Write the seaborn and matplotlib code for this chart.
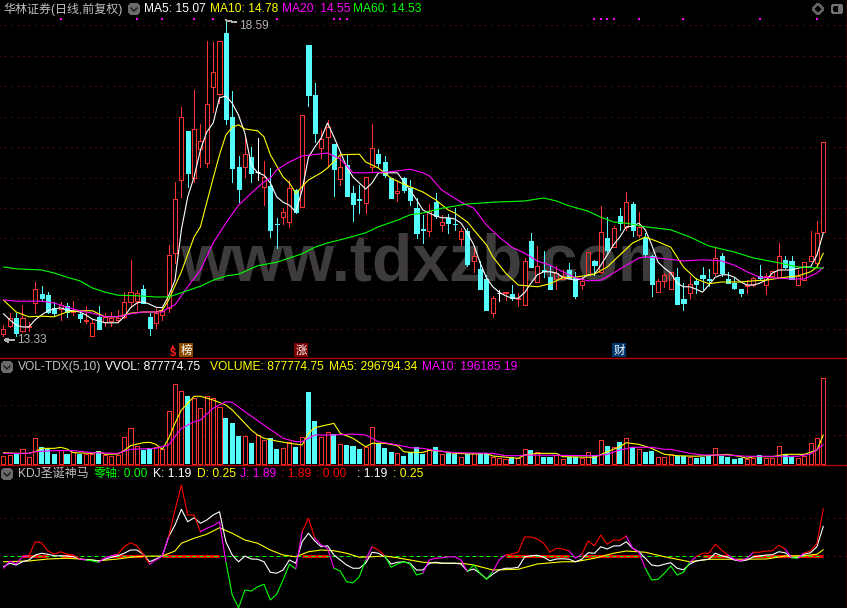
import numpy as np
import seaborn as sns
import matplotlib.pyplot as plt
from matplotlib.patches import Circle, FancyBboxPatch, Polygon

# daily bars, 华林证券
opens = [13.36,13.50,13.63,13.41,13.48,13.88,14.03,14.01,13.80,13.78,
         13.83,13.73,13.70,13.58,13.33,13.65,13.56,13.58,13.60,13.65,
         13.90,13.91,14.11,13.65,13.55,13.68,13.80,14.71,15.93,16.75,
         15.96,16.45,16.21,17.48,17.36,18.38,16.98,16.15,16.15,16.31,
         16.06,15.81,15.83,15.20,15.31,15.23,15.76,15.48,18.18,17.35,
         16.46,16.65,16.53,15.95,16.18,15.71,15.61,15.55,16.15,16.36,
         16.23,15.96,15.71,15.96,15.80,15.46,15.11,15.08,15.56,15.18,
         15.30,15.20,14.95,15.08,14.58,14.45,14.28,13.71,14.05,14.05,
         14.03,13.95,13.85,14.91,14.23,14.43,14.31,14.28,14.28,14.43,
         14.30,14.18,14.35,14.58,14.40,14.96,14.81,15.33,15.15,15.53,
         15.01,14.96,14.66,14.06,14.25,14.11,14.31,13.95,14.05,14.25,
         14.35,14.28,14.38,14.66,14.28,14.21,14.11,14.16,14.18,14.33,
         14.18,14.33,14.31,14.60,14.58,14.18,14.26,14.58,14.55,15.06]
closes = [13.45,13.63,13.38,13.63,13.50,14.11,13.96,13.73,13.71,13.85,
          13.73,13.75,13.63,13.60,13.55,13.45,13.65,13.63,13.63,13.90,
          14.06,14.05,13.88,13.46,13.71,13.75,14.68,15.61,16.98,16.05,
          16.78,16.58,17.20,17.73,18.25,16.95,16.13,15.78,16.36,16.05,
          16.06,15.98,15.10,15.19,15.40,15.80,15.40,17.01,17.35,16.71,
          16.61,16.81,16.11,16.15,15.66,15.53,15.60,15.98,16.46,16.21,
          16.01,15.63,15.75,15.76,15.60,15.05,15.10,15.41,15.33,15.23,
          15.21,15.19,15.08,14.53,14.66,14.11,13.76,13.96,14.05,14.06,
          13.96,13.96,14.58,14.48,14.50,14.42,14.11,14.38,14.33,14.30,
          14.00,14.25,14.73,14.51,15.06,14.76,15.13,15.21,15.56,15.10,
          15.15,14.70,14.20,14.25,14.35,14.40,13.86,13.88,14.20,14.20,
          14.30,14.27,14.63,14.38,14.21,14.13,14.05,14.18,14.30,14.30,
          14.33,14.41,14.66,14.48,14.28,14.33,14.56,14.66,15.05,16.56]
highs = [13.51,13.71,13.71,13.85,13.56,14.23,14.16,14.06,13.90,13.90,
         13.88,13.91,13.75,13.83,13.61,13.83,13.71,13.73,13.76,14.06,
         14.60,14.10,14.18,13.71,13.81,13.81,14.85,15.90,17.15,16.75,
         17.43,16.86,18.25,18.23,18.25,18.59,17.41,16.33,16.63,16.48,
         16.63,16.25,16.13,15.30,15.46,15.93,15.78,17.01,18.18,17.55,
         16.76,16.93,16.53,16.38,16.35,15.83,15.85,15.98,16.86,16.45,
         16.33,15.96,15.93,15.98,15.93,15.63,15.35,15.53,15.71,15.35,
         15.36,15.46,15.13,15.13,14.83,14.58,14.35,14.00,14.10,14.06,
         14.18,14.05,14.63,15.05,14.83,14.75,14.51,14.50,14.43,14.55,
         14.40,14.31,14.73,14.60,15.50,15.31,15.16,15.46,15.73,15.56,
         15.40,15.05,14.68,14.28,14.38,14.40,14.46,14.21,14.33,14.30,
         14.48,14.45,14.81,14.71,14.40,14.30,14.11,14.26,14.31,14.51,
         14.38,14.41,14.88,14.66,14.66,14.43,14.56,15.08,15.25,16.56]
lows = [13.33,13.48,13.33,13.40,13.41,13.71,13.93,13.71,13.68,13.60,
        13.65,13.68,13.56,13.55,13.33,13.44,13.50,13.50,13.56,13.63,
        13.81,13.76,13.88,13.35,13.46,13.60,13.73,14.55,15.65,15.81,
        15.90,16.15,16.15,17.06,17.21,16.86,15.90,15.56,15.98,15.90,
        15.93,15.51,14.98,14.80,15.20,15.15,15.38,15.48,17.16,16.56,
        16.30,16.15,15.66,15.85,15.66,15.25,15.38,15.38,16.06,16.15,
        15.98,15.63,15.58,15.73,15.51,14.96,14.88,15.00,15.30,15.08,
        15.05,15.10,14.85,14.50,14.40,14.11,13.76,13.65,13.91,13.93,
        13.93,13.83,13.85,14.48,14.23,14.31,14.11,14.11,14.28,14.30,
        13.96,14.11,14.35,14.35,14.38,14.73,14.81,15.10,15.10,15.00,
        14.98,14.65,14.00,14.06,14.15,14.11,13.86,13.76,13.96,14.05,
        14.11,14.16,14.35,14.33,14.21,14.11,14.00,14.05,14.16,14.26,
        14.03,14.33,14.31,14.46,14.28,14.18,14.26,14.58,14.48,15.06]
white_doji = [40, 78]

ma5 = [13.70,13.60,13.51,13.48,13.48,13.60,13.68,13.75,13.78,13.80,
       13.76,13.75,13.73,13.68,13.61,13.58,13.55,13.55,13.55,13.65,
       13.80,13.88,13.90,13.86,13.81,13.80,14.00,14.26,15.10,15.65,
       15.98,16.43,16.73,16.88,17.30,17.33,17.21,17.01,16.71,16.18,
       16.05,16.01,15.88,15.65,15.56,15.51,15.40,15.76,16.31,16.48,
       16.63,16.88,16.65,16.40,16.15,15.98,15.88,15.78,15.88,16.05,
       16.05,16.05,16.05,15.90,15.76,15.60,15.43,15.38,15.33,15.30,
       15.30,15.28,15.21,15.05,14.85,14.55,14.30,14.15,14.06,14.00,
       13.96,13.96,14.05,14.21,14.35,14.40,14.40,14.38,14.31,14.28,
       14.26,14.28,14.35,14.36,14.51,14.68,14.85,14.98,15.15,15.16,
       15.21,15.10,14.85,14.56,14.46,14.38,14.21,14.15,14.15,14.11,
       14.06,14.18,14.31,14.35,14.35,14.31,14.23,14.18,14.18,14.21,
       14.26,14.38,14.43,14.43,14.43,14.46,14.48,14.48,14.68,15.05]
ma10_idx = [0,2,4,6,8,10,12,14,16,18,20,22,24,25,26,28,30,31,33,34,35,36,37,38,40,41,42,44,45,46,
            48,50,51,53,56,57,59,61,63,66,68,70,71,73,74,76,77,79,81,83,84,86,88,90,93,95,97,99,
            101,103,105,107,109,111,113,116,118,120,123,125,127,128,129]
ma10 = [13.93,13.73,13.65,13.66,13.65,13.73,13.75,13.75,13.65,13.65,13.71,13.73,13.73,13.76,13.93,
        14.40,14.98,15.15,15.96,16.35,16.68,16.81,16.85,16.78,16.75,16.65,16.35,15.98,15.88,15.71,
        15.93,16.05,16.13,16.35,16.36,16.23,16.13,15.96,15.86,15.73,15.60,15.43,15.38,15.23,15.10,
        14.85,14.65,14.38,14.18,14.16,14.15,14.20,14.30,14.31,14.36,14.48,14.68,14.88,14.98,14.90,
        14.81,14.48,14.28,14.20,14.23,14.23,14.25,14.26,14.31,14.33,14.40,14.48,14.71]
ma20_idx = [0,2,6,8,10,12,14,16,18,20,22,25,26,27,29,31,33,35,37,39,41,42,43,45,47,51,53,55,57,60,
            62,64,66,67,69,72,74,76,78,80,82,84,86,88,90,92,94,96,98,100,101,103,107,110,113,115,
            117,119,121,124,126,128,129]
ma20 = [13.93,13.91,13.91,13.88,13.81,13.75,13.71,13.65,13.65,13.70,13.73,13.73,13.80,13.85,14.15,
        14.43,14.88,15.21,15.51,15.71,15.90,15.96,16.10,16.23,16.33,16.38,16.28,16.05,16.05,16.06,
        16.08,16.11,16.05,16.00,15.76,15.56,15.46,15.18,14.98,14.81,14.71,14.58,14.51,14.40,14.30,
        14.25,14.26,14.38,14.51,14.63,14.65,14.63,14.58,14.60,14.58,14.51,14.40,14.31,14.30,14.28,
        14.28,14.38,14.48]
ma60_idx = [0,2,6,8,10,12,14,16,18,21,24,26,28,31,33,35,37,40,43,47,49,51,54,57,59,62,64,66,69,73,
            77,82,85,87,89,92,94,96,98,101,105,108,111,115,118,122,125,129]
ma60 = [14.48,14.45,14.43,14.38,14.31,14.25,14.13,14.06,14.01,14.00,13.98,13.98,14.05,14.16,14.26,
        14.33,14.36,14.50,14.56,14.70,14.81,14.88,14.96,15.05,15.15,15.26,15.35,15.38,15.46,15.53,
        15.56,15.58,15.63,15.58,15.50,15.41,15.31,15.23,15.21,15.15,15.10,14.98,14.83,14.73,14.63,
        14.55,14.48,14.46]
signal_bars = [9,21,25,30,33,43,52,53,54,93,94,95,96,100,107,119,128]
price_grid = [18.51,17.99,17.49,16.98,16.48,15.97,15.46,14.96,14.45,13.95,13.45]

# volume, in units of 10 000
volumes = [8.2,9.2,9.9,15.0,7.5,26.3,17.4,15.0,10.6,14.3,
           10.6,11.9,10.6,10.2,10.6,13.3,9.2,8.2,9.2,27.3,
           36.5,18.4,14.3,16.0,17.7,15.0,54.3,81.6,74.7,70.0,
           67.2,57.0,69.6,67.2,58.7,47.4,42.3,28.7,28.7,21.2,
           29.7,24.6,26.3,15.4,16.0,22.2,17.7,27.3,74.1,44.0,
           27.6,32.4,30.7,20.1,19.5,18.4,15.4,17.1,37.5,21.2,
           16.0,12.3,10.9,8.2,11.9,17.1,10.6,15.0,17.4,10.2,
           11.6,10.2,6.8,10.2,11.6,11.6,10.6,6.8,5.8,4.8,
           6.8,5.8,15.0,14.3,12.6,7.2,7.2,9.2,4.8,6.8,
           6.8,5.8,12.6,9.2,24.2,18.4,17.7,22.2,26.3,17.7,
           15.0,12.3,13.3,6.8,6.8,9.9,8.5,8.2,7.5,6.1,
           7.5,8.2,16.0,8.2,7.2,5.1,6.1,4.8,5.8,8.9,
           6.5,6.5,18.1,9.9,7.2,5.8,8.2,21.2,26.3,87.78]
vol_ma5_idx = [0,2,4,5,6,8,9,10,11,14,15,16,18,19,20,22,23,24,25,26,27,28,29,30,31,33,35,36,37,39,
               40,41,43,45,47,48,49,52,53,55,57,58,60,62,63,64,66,67,69,71,74,76,77,81,82,84,87,88,
               93,95,97,98,100,102,104,106,109,114,116,117,118,121,123,126,128,129]
vol_ma5 = [11.6,10.9,10.9,12.6,16.0,16.0,17.1,15.4,11.6,10.9,12.6,9.9,10.2,13.7,18.8,21.8,22.2,20.1,
           15.0,26.3,41.6,55.3,62.1,69.3,69.3,65.5,60.4,55.3,48.5,34.8,29.7,26.3,23.5,21.2,19.5,31.4,
           37.2,41.6,31.4,26.3,17.7,21.2,21.2,18.8,12.6,11.9,11.9,14.0,13.0,10.9,10.2,10.9,8.2,5.8,
           9.2,10.9,10.9,7.5,6.8,12.6,17.7,21.8,20.1,16.0,9.9,8.5,7.9,9.9,7.5,5.8,7.5,7.5,9.9,9.9,
           14.3,29.68]
vol_ma10_idx = [0,4,5,8,11,14,18,20,24,26,28,30,31,33,35,36,38,41,44,46,47,49,52,55,57,59,62,64,66,
                68,71,77,79,81,82,93,95,97,99,102,104,105,108,110,114,117,125,127,129]
vol_ma10 = [10.9,10.9,12.6,13.7,13.7,11.6,10.9,15.0,16.0,19.5,36.5,43.3,45.1,57.0,63.8,63.1,53.6,
            39.9,26.3,22.9,22.9,29.7,29.7,30.7,29.7,22.9,19.5,16.7,16.0,13.7,11.6,10.9,8.5,8.5,9.2,
            8.5,9.9,14.3,17.1,17.1,15.0,15.0,10.9,9.2,9.2,7.9,7.9,10.2,19.62]
vol_grid = [30, 60]

# KDJ panel
k_line = [-0.43,-0.29,-0.36,-0.23,-0.16,0.04,0.11,0.07,0.01,0.01,
          0.00,-0.03,-0.12,-0.15,-0.16,-0.20,-0.13,-0.05,0.01,0.11,
          0.24,0.24,0.07,-0.23,-0.12,0.00,0.77,1.24,1.87,1.37,
          1.53,1.31,1.44,1.64,1.77,0.57,0.04,-0.23,0.00,-0.12,
          -0.13,-0.23,-0.65,-0.69,-0.56,-0.16,-0.29,0.57,0.91,0.60,
          0.37,0.41,0.04,-0.16,-0.36,-0.49,-0.49,-0.29,0.15,0.11,
          -0.03,-0.32,-0.25,-0.23,-0.29,-0.56,-0.56,-0.29,-0.25,-0.29,
          -0.29,-0.29,-0.32,-0.60,-0.52,-0.69,-0.92,-0.73,-0.56,-0.49,
          -0.49,-0.45,-0.04,0.01,0.03,-0.05,-0.19,-0.12,-0.11,-0.13,
          -0.23,-0.13,0.13,0.11,0.37,0.28,0.40,0.41,0.57,0.31,
          0.17,-0.09,-0.36,-0.40,-0.33,-0.27,-0.49,-0.55,-0.32,-0.20,
          -0.16,-0.13,0.11,0.01,-0.05,-0.16,-0.20,-0.16,-0.03,0.00,
          0.04,0.05,0.17,0.13,-0.05,-0.07,0.07,0.13,0.37,1.19]
d_idx = [0,4,7,10,12,15,18,20,22,25,27,28,30,32,34,36,38,40,42,44,46,48,50,52,54,56,58,60,62,66,
         69,72,74,77,81,84,88,90,93,96,98,101,104,108,111,116,120,123,126,128,129]
d_line = [-0.23,-0.20,-0.12,-0.09,-0.12,-0.19,-0.12,-0.05,-0.01,0.00,0.20,0.51,0.71,0.87,1.13,0.91,
          0.64,0.51,0.24,0.04,-0.03,0.17,0.24,0.21,0.11,-0.05,-0.03,0.00,-0.07,-0.25,-0.29,-0.29,
          -0.36,-0.56,-0.53,-0.32,-0.23,-0.23,-0.09,0.11,0.20,0.15,-0.03,-0.23,-0.13,-0.13,-0.12,
          0.00,0.01,0.07,0.25]
j_line = [-0.49,-0.20,-0.32,-0.03,0.01,0.57,0.53,0.20,0.07,0.17,
          0.07,0.04,-0.12,-0.16,-0.20,-0.25,-0.07,0.01,0.07,0.37,
          0.53,0.41,0.07,-0.33,-0.16,0.00,0.77,1.84,2.84,1.64,
          1.64,0.97,1.11,1.21,1.37,-0.23,-1.56,-2.07,-1.36,-1.40,
          -1.23,-1.13,-1.76,-1.53,-0.96,-0.33,-0.52,0.97,1.51,0.71,
          0.44,0.31,-0.49,-0.60,-1.03,-1.07,-0.83,-0.16,0.37,0.24,
          0.01,-0.45,-0.32,-0.23,-0.32,-0.76,-0.69,-0.16,-0.09,-0.07,
          -0.03,-0.03,-0.16,-0.63,-0.36,-0.69,-0.93,-0.63,-0.16,0.04,
          0.08,0.15,0.76,0.76,0.68,0.51,0.15,0.31,0.28,0.20,
          -0.09,0.07,0.60,0.41,0.84,0.47,0.64,0.63,0.80,0.31,
          0.15,-0.49,-0.96,-0.93,-0.69,-0.40,-0.76,-0.65,-0.25,-0.03,
          0.11,0.11,0.47,0.24,0.04,-0.13,-0.19,-0.09,0.15,0.15,
          0.20,0.21,0.43,0.28,-0.07,-0.09,0.12,0.20,0.51,1.89]
zero_starts = [3,9,17,25,47,79,91,110,118]
zero_ends = [7,11,22,34,51,89,100,114,129]
kdj_grid = [1.52, 0]

# colours of the J line, run by run (colour, number of segments)
j_runs = [('m',4),('r',8),('m',1),('g',2),('m',3),('r',5),('m',3),('r',5),('m',4),('g',11),
          ('m',1),('r',2),('m',3),('g',5),('m',1),('r',2),('g',6),('m',7),('g',4),('m',2),
          ('r',10),('m',2),('r',7),('m',3),('g',7),('m',1),('r',5),('m',4),('r',5),('m',1),
          ('g',1),('m',1),('r',3)]

RED = '#ff3232'
CYAN = '#54fcfc'
GRID = '#8a1414'
LINE = '#b00000'
GREY = '#c0c0c0'
PX = 0.72
j_colors = {'m': '#ff00ff', 'r': '#ff0000', 'g': '#00ff00'}

sns.set_theme(style='dark', rc={'figure.facecolor': 'black', 'axes.facecolor': 'black',
                                'savefig.facecolor': 'black', 'patch.antialiased': False})
plt.rcParams['font.family'] = ['Liberation Sans', 'Noto Sans CJK SC', 'DejaVu Sans']

W, H = 847, 608
fig = plt.figure(figsize=(W / 100, H / 100), dpi=100)


def panel(top, bottom, ymax, ymin):
    a = fig.add_axes([0, 1 - bottom / H, 1, (bottom - top) / H])
    a.axis('off')
    a.patch.set_alpha(0)
    return a, (ymin, ymax)


def line(a, x, y, color):
    sns.lineplot(x=x, y=y, ax=a, color=color, linewidth=0.8, estimator=None,
                 errorbar=None, sort=False, zorder=5)


def grid(a, levels):
    a.hlines(levels, -1, 134, colors=GRID, lw=PX, linestyles=(0, (1, 5)), zorder=1)


bars = np.arange(len(opens))
XLIM = (-0.535, 132.73)
o, c, h, l = map(np.array, (opens, closes, highs, lows))
up = c > o
white = np.isin(bars, white_doji)
down = ~up & ~white

# --- main panel ---
ax, ylim = panel(0, 358, 18.93, 12.963)
grid(ax, price_grid)
ax.text(27.8, 14.25, 'www.tdxzb.com', color='#3c3c3c', fontsize=47.5, fontweight='bold',
        ha='left', va='baseline', zorder=0.5)

ax.vlines(bars[up], c[up], h[up], colors=RED, lw=PX, antialiased=False, zorder=2)
ax.vlines(bars[up], l[up], o[up], colors=RED, lw=PX, antialiased=False, zorder=2)
ax.vlines(bars[down], l[down], h[down], colors=CYAN, lw=PX, antialiased=False, zorder=2)
ax.vlines(bars[white], l[white], h[white], colors='white', lw=PX, antialiased=False, zorder=2)
ax.bar(bars[up], c[up] - o[up], bottom=o[up], width=0.64, facecolor='none', edgecolor=RED,
       lw=PX, antialiased=False, zorder=3)
ax.bar(bars[down], o[down] - c[down], bottom=c[down], width=0.64, facecolor=CYAN, edgecolor=CYAN,
       lw=PX, antialiased=False, zorder=3)
ax.hlines(c[white], bars[white] - 0.36, bars[white] + 0.36, colors='white', lw=PX, zorder=3)

line(ax, bars, ma5, 'white')
line(ax, ma10_idx, ma10, '#ffff00')
line(ax, ma20_idx, ma20, '#ff00ff')
line(ax, ma60_idx, ma60, '#00ff00')
sns.scatterplot(x=signal_bars, y=[18.62] * len(signal_bars), ax=ax, marker='s', s=3.5,
                color='#ff00ff', linewidth=0, zorder=5)

ax.annotate('18.59', xy=(35.05, 18.59), xytext=(37.1, 18.5), color='#b0b0b0', fontsize=8.6,
            va='center', arrowprops=dict(arrowstyle='-', color='#b0b0b0', lw=PX, shrinkA=0, shrinkB=0))
ax.annotate('13.33', xy=(0, 13.26), xytext=(2.2, 13.26), color='#b0b0b0', fontsize=8.6,
            va='center', arrowprops=dict(arrowstyle='->', color='#b0b0b0', lw=PX, shrinkA=0, shrinkB=0,
                                         mutation_scale=6))
ax.set_xlim(XLIM)
ax.set_ylim(ylim)

# --- volume panel ---
ax2, ylim2 = panel(358, 465, 108.5, -1.02)
grid(ax2, vol_grid)
vols = np.array(volumes)
vup = c >= o
sns.barplot(x=bars[vup], y=vols[vup], ax=ax2, native_scale=True, width=0.64, fill=False, color=RED,
            saturation=1, linewidth=PX, antialiased=False, zorder=3)
sns.barplot(x=bars[~vup], y=vols[~vup], ax=ax2, native_scale=True, width=0.8, color=CYAN,
            saturation=1, linewidth=0, antialiased=False, zorder=3)
line(ax2, vol_ma5_idx, vol_ma5, '#ffff00')
line(ax2, vol_ma10_idx, vol_ma10, '#ff00ff')
ax2.axis('off')
ax2.set_xlim(XLIM)
ax2.set_ylim(ylim2)

# --- KDJ panel ---
ax3, ylim3 = panel(465, 608, 3.64, -2.08)
grid(ax3, kdj_grid)
ax3.hlines([0] * len(zero_starts), zero_starts, zero_ends, colors='#ff0000', lw=2.2, zorder=2)
ax3.hlines(0, 0, 128.6, colors='#00ff00', lw=PX, linestyles=(0, (4, 3)), zorder=2)
line(ax3, d_idx, d_line, '#ffff00')
line(ax3, bars, k_line, 'white')
start = 0
for name, n in j_runs:
    line(ax3, bars[start:start + n + 1], j_line[start:start + n + 1], j_colors[name])
    start += n
ax3.set_xlim(XLIM)
ax3.set_ylim(ylim3)

# --- window furniture, in pixels ---
ov = fig.add_axes([0, 0, 1, 1], zorder=10)
ov.axis('off')
ov.patch.set_alpha(0)
ov.set_xlim(0, W)
ov.set_ylim(H, 0)
ov.plot([0, W], [358, 358], color=LINE, lw=1.0)
ov.plot([0, W], [465, 465], color=LINE, lw=1.0)
ov.plot([846.5, 846.5], [0, H], color=LINE, lw=1.0)


def label(x, y, s, color, size=8.64):
    ov.text(x, y, s, color=color, fontsize=size, ha='left', va='center')


def chevron(x, y):
    ov.add_patch(Circle((x, y), 6, facecolor='#6a6a6a', edgecolor='none'))
    ov.plot([x - 3, x, x + 3], [y - 1, y + 2, y - 1], color='#202020', lw=1.1)


label(3, 9, '华林证券(日线,前复权)', GREY)
chevron(134, 9)
label(144, 9, 'MA5: 15.07', 'white')
label(210, 9, 'MA10: 14.78', '#ffff00')
label(282, 9, 'MA20: 14.55', '#ff00ff')
label(353, 9, 'MA60: 14.53', '#00ff00')

chevron(7, 367)
label(18, 367, 'VOL-TDX(5,10)', GREY)
label(105, 367, 'VVOL: 877774.75', 'white')
label(210, 367, 'VOLUME: 877774.75', '#ffff00')
label(329, 367, 'MA5: 296794.34', '#ffff00')
label(422, 367, 'MA10: 196185.19', '#ff00ff')

chevron(7, 474)
label(18, 474, 'KDJ圣诞神马', GREY)
label(94, 474, '零轴', '#00ff00')
label(117, 474, ': 0.00', '#00ff00')
label(153, 474, 'K: 1.19', 'white')
label(197, 474, 'D: 0.25', '#ffff00')
label(240, 474, 'J: 1.89', '#ff00ff')
label(281, 474, ': 1.89', '#ff0000')
label(316, 474, ': 0.00', '#ff0000')
label(357, 474, ': 1.19', 'white')
label(393, 474, ': 0.25', '#ffff00')

ov.add_patch(Polygon([(818, 3.5), (823.5, 9), (818, 14.5), (812.5, 9)], closed=True,
                     facecolor='none', edgecolor='#606060', lw=0.8))
ov.add_patch(FancyBboxPatch((832, 5), 10, 8, boxstyle='round,pad=0,rounding_size=2',
                            facecolor='none', edgecolor='#707070', lw=1.0))
ov.add_patch(plt.Rectangle((838, 6), 3, 6, facecolor='#707070', edgecolor='none'))

for x, s, bg in [(186, '榜', '#8a4a00'), (301, '涨', '#780000'), (619, '财', '#00386c')]:
    ov.text(x, 350, s, color='white', fontsize=8.2, ha='center', va='center',
            bbox=dict(facecolor=bg, edgecolor='none', pad=0.8))
ov.text(172.5, 353, '$', color='#ff2020', fontsize=8, fontweight='bold', ha='center', va='center')
ov.text(172.5, 346.5, '▲', color='#ff2020', fontsize=4, ha='center', va='center')

fig.savefig('out.png', dpi=100)
